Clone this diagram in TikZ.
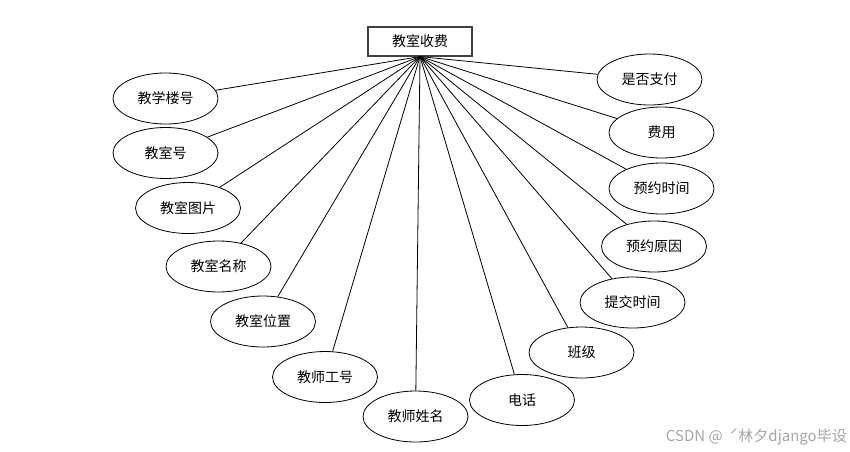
\documentclass[tikz,border=0pt]{standalone}
\usepackage{fontspec}
\setmainfont{Noto Sans CJK SC}
\usetikzlibrary{shapes.geometric}

\tikzset{
    entity/.style={draw=black!75, line width=1.2pt, rectangle,
        minimum width=104pt, minimum height=29pt, inner sep=0pt,
        font=\fontsize{14}{16}\selectfont},
    attr/.style={draw, line width=0.8pt, ellipse,
        minimum width=105pt, minimum height=51pt, inner sep=0pt,
        font=\fontsize{14}{16}\selectfont},
    link/.style={line width=0.8pt},
}

\begin{document}
\begin{tikzpicture}[x=1pt, y=-1pt]
    \useasboundingbox (0,0) rectangle (850,451);

    % Entidad
    \node[entity] (cobro) at (420,41.5) {教室收费};
    \coordinate (hub) at (cobro.south);

    % Atributos izquierda
    \node[attr] (edificio) at (165.5,98.5) {教学楼号};
    \node[attr] (aulanum)  at (165.5,153)  {教室号};
    \node[attr] (foto)     at (188,208)    {教室图片};
    \node[attr] (nombre)   at (218.5,266.5) {教室名称};
    \node[attr] (lugar)    at (263,321.5)  {教室位置};
    \node[attr] (profid)   at (325,377)    {教师工号};
    \node[attr] (profnom)  at (415.5,416.5) {教师姓名};

    % Atributos derecha
    \node[attr] (tel)      at (522,400)    {电话};
    \node[attr] (clase)    at (581.5,352.5) {班级};
    \node[attr] (envio)    at (632.5,302.5) {提交时间};
    \node[attr] (motivo)   at (654,246.5)  {预约原因};
    \node[attr] (reserva)  at (661.5,188.5) {预约时间};
    \node[attr] (costo)    at (661.5,132.5) {费用};
    \node[attr] (pagado)   at (649.5,79.5) {是否支付};

    % Conexiones
    \draw[link] (hub) -- (edificio);
    \draw[link] (hub) -- (aulanum);
    \draw[link] (hub) -- (foto);
    \draw[link] (hub) -- (nombre);
    \draw[link] (hub) -- (lugar);
    \draw[link] (hub) -- (profid);
    \draw[link] (hub) -- (profnom);
    \draw[link] (hub) -- (tel);
    \draw[link] (hub) -- (clase);
    \draw[link] (hub) -- (envio);
    \draw[link] (hub) -- (motivo);
    \draw[link] (hub) -- (reserva);
    \draw[link] (hub) -- (costo);
    \draw[link] (hub) -- (pagado);

    % Marca de agua
    \node[anchor=east, text=black!35, font=\fontsize{15}{17}\selectfont,
        inner sep=0pt] (marca) at (847,437) {CSDN @ \ ˊ林夕django毕设};
\end{tikzpicture}
\end{document}
